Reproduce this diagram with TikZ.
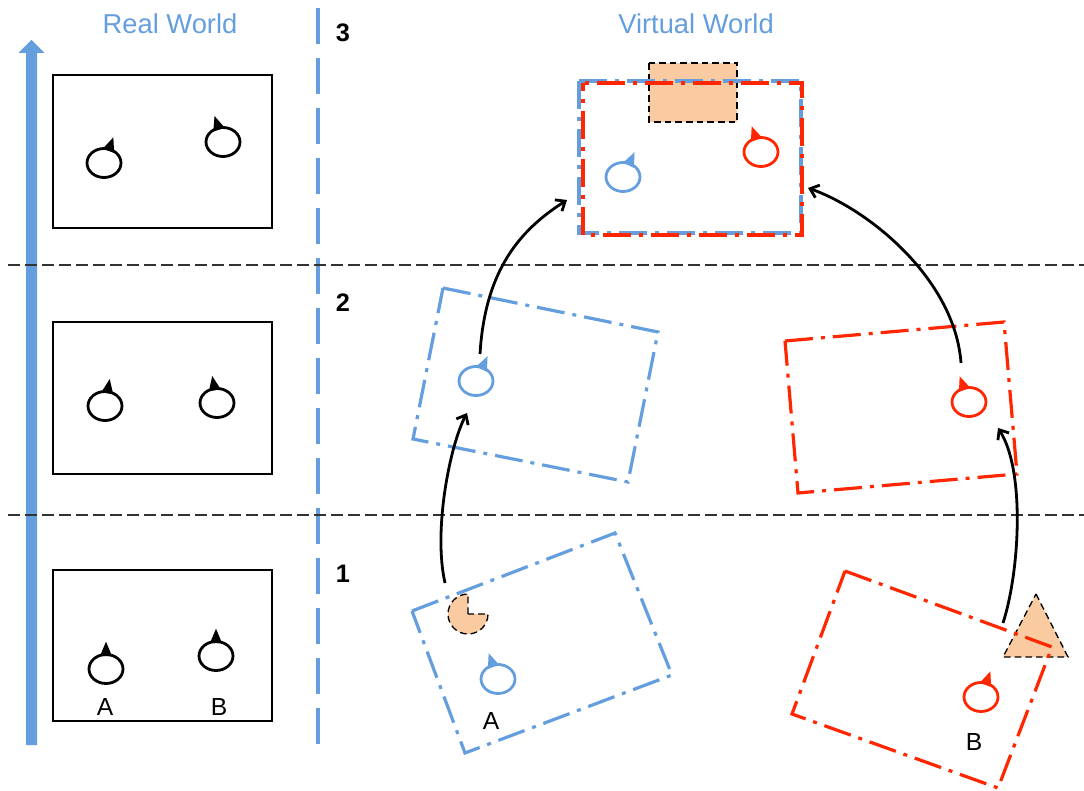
\documentclass[tikz,border=0pt]{standalone}
\usepackage{fontspec}
\setmainfont{Liberation Sans}
\usetikzlibrary{shapes.geometric,arrows.meta}
\definecolor{vwblue}{RGB}{100,158,222}
\definecolor{vwred}{RGB}{255,38,0}
\definecolor{peach}{RGB}{250,203,160}
\definecolor{dgray}{RGB}{50,50,50}
\newcommand\avatar[5]{%
  \node[avat, draw=#5] (#1) at (#2,#3) {};
  \fill[#5] ([shift={(#4+25:10.7pt)}]#1.center) -- ([shift={(#4:20.5pt)}]#1.center) -- ([shift={(#4-25:10.7pt)}]#1.center) -- cycle;}
\tikzset{
  avat/.style={ellipse, minimum width=25.5pt, minimum height=21.75pt, inner sep=0pt, line width=2.1pt},
  realbox/.style={draw=black, line width=2pt},
  vrect/.style={line width=2.4pt, dash pattern=on 21pt off 6pt on 3pt off 6pt},
  sepline/.style={draw=dgray, line width=1.1pt, dash pattern=on 9pt off 3.75pt},
  extra/.style={fill=peach, draw=black, line width=1pt, dash pattern=on 5pt off 3pt},
  flow/.style={draw=black, line width=2.1pt, -{Straight Barb[length=6pt,width=10pt]}},
  head/.style={text=vwblue, font=\fontsize{20.5}{24}\selectfont, anchor=base},
  stepno/.style={font=\fontsize{19}{23}\selectfont\bfseries, anchor=base},
  lbl/.style={font=\fontsize{18.5}{22}\selectfont, anchor=base}
}
\begin{document}
\begin{tikzpicture}[x=0.75pt,y=-0.75pt]
\useasboundingbox (0,0) rectangle (1084,791);
% left time arrow
\fill[vwblue] (26,745) -- (26,53) -- (18.5,53) -- (31.5,40) -- (44.5,53) -- (37,53) -- (37,745) -- cycle;
% headings
\node[head] (rw) at (170,34) {Real World};
\node[head] (vw) at (696,34) {Virtual World};
% vertical separator
\draw[vwblue, line width=3pt, dash pattern=on 27pt off 10.5pt] (318,8) -- (318,752);
% step numbers
\node[stepno] (n3) at (343,42) {3};
\node[stepno] (n2) at (343,311) {2};
\node[stepno] (n1) at (343,582) {1};
% horizontal separators
\draw[sepline] (8,265) -- (1084,265);
\draw[sepline] (8,515) -- (1084,515);
% real world boxes
\draw[realbox] (53,75) rectangle (272,228);
\draw[realbox] (53,322) rectangle (272,474);
\draw[realbox] (53,570) rectangle (272,721);
\avatar{rA3}{104}{163}{70}{black}
\avatar{rB3}{223}{142}{108}{black}
\avatar{rA2}{105}{406}{80}{black}
\avatar{rB2}{217}{403}{100}{black}
\avatar{rA1}{106}{669}{90}{black}
\avatar{rB1}{216}{656}{90}{black}
\node[lbl] (lA) at (105,715) {A};
\node[lbl] (lB) at (219,715) {B};
% virtual world, step 3
\draw[extra] (649,63) rectangle (737,122);
\draw[vrect, draw=vwblue] (579,81) rectangle (801,233);
\draw[vrect, draw=vwred, dash phase=15pt] (583,83) rectangle (802,235);
\avatar{vA3}{623}{177}{65}{vwblue}
\avatar{vB3}{761}{152}{110}{vwred}
% step 2
\draw[vrect, draw=vwblue] (443,288) -- (658,332) -- (628,482) -- (413,439) -- cycle;
\draw[vrect, draw=vwred] (785,341) -- (1004,322) -- (1017,474) -- (798,493) -- cycle;
\avatar{vA2}{476}{381}{65}{vwblue}
\avatar{vB2}{969}{402}{110}{vwred}
% step 1
\draw[vrect, draw=vwblue] (412,611) -- (615,533) -- (672,675) -- (465,753) -- cycle;
\draw[extra] (468,614) -- ++(90:15pt) arc[start angle=90, end angle=360, radius=15pt] -- cycle;
\draw[extra] (1036,594) -- (1068,657) -- (1003,657) -- cycle;
\draw[vrect, draw=vwred] (845,571) -- (1052,647) -- (998,788) -- (792,714) -- cycle;
\avatar{vA1}{498}{679}{110}{vwblue}
\avatar{vB1}{981}{697}{70}{vwred}
\node[lbl] (vlA) at (491,729) {A};
\node[lbl] (vlB) at (974,750) {B};
% connectors
\coordinate (a1s) at (445,583);
\coordinate (a1e) at (467,413);
\coordinate (a2s) at (480,354);
\coordinate (a2e) at (567,200);
\coordinate (b1s) at (1003,623);
\coordinate (b1e) at (998,428);
\coordinate (b2s) at (961,363);
\coordinate (b2e) at (808,188);
\draw[flow] (a1s) .. controls (433,530) and (450,445) .. (a1e);
\draw[flow] (a2s) .. controls (485,270) and (520,230) .. (a2e);
\draw[flow] (b1s) .. controls (1020,570) and (1025,470) .. (b1e);
\draw[flow] (b2s) .. controls (955,280) and (870,210) .. (b2e);
\end{tikzpicture}
\end{document}
